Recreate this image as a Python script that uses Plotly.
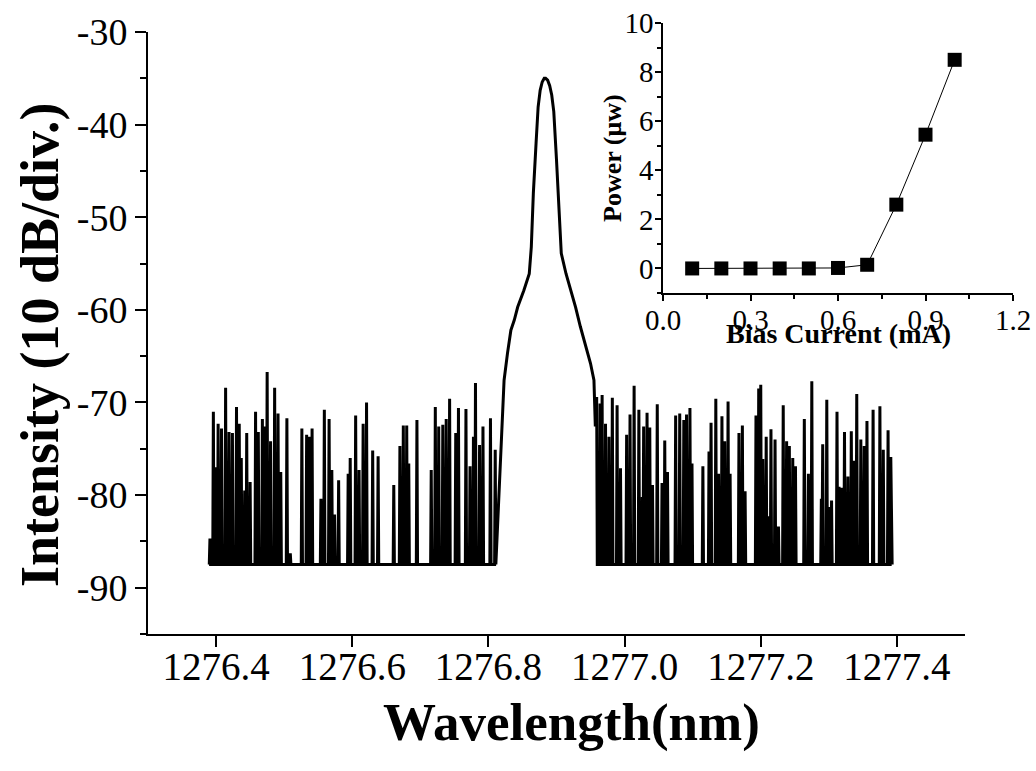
import plotly.graph_objects as go

# ---------------- data ----------------
FLOOR_DB = -87.5
START_WL = 1276.390
END_WL = 1277.393

# noise spikes left of the lasing peak (wavelength nm, level dB)
left_spike_wl = [1276.391, 1276.396, 1276.400, 1276.403, 1276.408, 1276.414, 1276.419, 1276.424,
                 1276.430, 1276.434, 1276.437, 1276.442, 1276.445, 1276.450, 1276.458, 1276.462,
                 1276.468, 1276.472, 1276.475, 1276.480, 1276.486, 1276.491, 1276.495, 1276.504,
                 1276.509, 1276.526, 1276.533, 1276.537, 1276.541, 1276.554, 1276.559, 1276.566,
                 1276.570, 1276.574, 1276.580, 1276.594, 1276.597, 1276.605, 1276.610, 1276.616,
                 1276.621, 1276.630, 1276.638, 1276.661, 1276.670, 1276.675, 1276.680, 1276.683,
                 1276.695, 1276.716, 1276.722, 1276.727, 1276.733, 1276.738, 1276.743, 1276.752,
                 1276.756, 1276.767, 1276.773, 1276.778, 1276.781, 1276.787, 1276.792, 1276.803,
                 1276.810]
left_spike_db = [-84.7, -71.0, -77.0, -72.3, -72.8, -68.4, -73.2, -73.3,
                 -70.5, -72.3, -76.0, -79.5, -73.3, -78.6, -71.0, -73.2,
                 -71.8, -72.6, -66.7, -74.2, -68.4, -71.2, -77.5, -71.7,
                 -86.3, -72.8, -73.5, -73.7, -72.8, -80.4, -70.8, -71.8,
                 -77.3, -82.1, -78.4, -77.7, -76.0, -71.4, -77.3, -72.3,
                 -70.0, -75.2, -75.8, -78.9, -74.7, -72.5, -72.5, -76.6,
                 -71.9, -77.3, -70.5, -72.6, -72.4, -71.8, -69.6, -73.3,
                 -70.6, -70.7, -76.9, -73.7, -67.9, -74.6, -72.6, -71.7,
                 -75.1]

# lasing peak profile
peak_wl = [1276.818, 1276.819, 1276.823, 1276.828, 1276.833, 1276.838, 1276.843, 1276.852,
           1276.860, 1276.863, 1276.866, 1276.870, 1276.873, 1276.876, 1276.879, 1276.882,
           1276.884, 1276.887, 1276.890, 1276.893,
           1276.896, 1276.900, 1276.904, 1276.907, 1276.914, 1276.921, 1276.928, 1276.935,
           1276.943, 1276.950, 1276.955, 1276.957, 1276.959]
peak_db = [-76.5, -74.1, -67.6, -64.7, -62.2, -61.1, -59.7, -57.9,
           -56.1, -53.2, -47.4, -42.0, -38.1, -36.3, -35.4, -35.0,
           -35.0, -35.2, -35.8, -36.8,
           -38.6, -43.8, -50.3, -53.9, -56.1, -57.9, -59.7, -61.8,
           -64.0, -65.8, -67.6, -72.6, -69.4]

# noise spikes right of the lasing peak
right_spike_wl = [1276.964, 1276.967, 1276.972, 1276.977, 1276.982, 1276.989, 1276.994, 1277.003,
                  1277.008, 1277.014, 1277.021, 1277.026, 1277.028, 1277.033, 1277.037, 1277.041,
                  1277.048, 1277.055, 1277.059, 1277.063, 1277.075, 1277.081, 1277.087, 1277.091,
                  1277.096, 1277.099, 1277.115, 1277.124, 1277.127, 1277.134, 1277.138, 1277.143,
                  1277.147, 1277.152, 1277.155, 1277.168, 1277.173, 1277.177, 1277.193, 1277.197,
                  1277.200, 1277.203, 1277.208, 1277.211, 1277.215, 1277.221, 1277.226, 1277.233,
                  1277.238, 1277.242, 1277.247, 1277.251, 1277.264, 1277.270, 1277.275, 1277.289,
                  1277.291, 1277.297, 1277.301, 1277.304, 1277.312, 1277.315, 1277.319, 1277.323,
                  1277.328, 1277.333, 1277.337, 1277.341, 1277.347, 1277.352, 1277.356, 1277.365,
                  1277.375, 1277.380, 1277.387, 1277.391]
right_spike_db = [-70.1, -69.2, -72.3, -73.7, -69.5, -70.3, -77.1, -73.5,
                  -71.3, -68.2, -70.8, -80.2, -72.6, -71.1, -72.7, -78.9,
                  -70.2, -78.7, -74.1, -77.5, -71.4, -71.2, -71.9, -71.3,
                  -70.6, -76.6, -76.9, -75.3, -72.2, -69.6, -77.7, -71.5,
                  -74.2, -69.9, -77.7, -73.3, -72.5, -79.6, -71.4, -68.5,
                  -68.1, -76.1, -73.7, -82.3, -72.9, -74.0, -83.4, -70.3,
                  -74.2, -74.7, -76.0, -76.9, -71.8, -77.7, -67.7, -80.4,
                  -74.5, -69.7, -81.3, -80.6, -71.0, -79.1, -79.2, -73.2,
                  -78.0, -73.1, -76.3, -69.1, -74.0, -74.7, -72.0, -70.8,
                  -70.4, -75.1, -73.0, -75.9]

# inset: L-I curve
bias_ma = [0.1, 0.2, 0.3, 0.4, 0.5, 0.6, 0.7, 0.8, 0.9, 1.0]
power_uw = [0.0, 0.0, 0.0, 0.0, 0.0, 0.02, 0.15, 2.6, 5.45, 8.5]

x_ticks = [1276.4, 1276.6, 1276.8, 1277.0, 1277.2, 1277.4]
y_ticks = [-90, -80, -70, -60, -50, -40, -30]

# ---------------- build spectrum trace ----------------
HALF_W = 0.0009
spec_x, spec_y = [START_WL], [FLOOR_DB]
for w, d in zip(left_spike_wl, left_spike_db):
    spec_x += [w - HALF_W, w, w + HALF_W]
    spec_y += [FLOOR_DB, d, FLOOR_DB]
spec_x += peak_wl
spec_y += peak_db
spec_x.append(peak_wl[-1] + HALF_W)
spec_y.append(FLOOR_DB)
for w, d in zip(right_spike_wl, right_spike_db):
    spec_x += [w - HALF_W, w, w + HALF_W]
    spec_y += [FLOOR_DB, d, FLOOR_DB]
spec_x.append(END_WL)
spec_y.append(FLOOR_DB)

FONT = "Liberation Serif, Times New Roman, serif"

fig = go.Figure()
fig.add_trace(go.Scatter(x=spec_x, y=spec_y, mode="lines",
                         line=dict(color="black", width=3), xaxis="x", yaxis="y",
                         showlegend=False, hoverinfo="skip"))
fig.add_trace(go.Scatter(x=bias_ma, y=power_uw, mode="lines+markers",
                         line=dict(color="black", width=1),
                         marker=dict(symbol="square", size=14, color="black"),
                         xaxis="x2", yaxis="y2", showlegend=False))

# plot area: x 148..1016 px, y 15..634 px
L, R, T, B = 148, 20, 15, 137
PW = 1036 - L - R
PH = 771 - T - B

def px(xp):
    return (xp - L) / PW

def py(yp):
    return (771 - B - yp) / PH

fig.update_layout(
    width=1036, height=771,
    margin=dict(l=L, r=R, t=T, b=B, autoexpand=False),
    paper_bgcolor="white", plot_bgcolor="rgba(0,0,0,0)",
    font=dict(family=FONT, color="black"),
    xaxis=dict(domain=[0, px(965)], range=[1276.3, 1277.5], tickvals=x_ticks,
               ticktext=[f"{v:.1f}" for v in x_ticks],
               showline=True, linecolor="black", linewidth=2, mirror=False,
               ticks="outside", ticklen=11, tickwidth=2, tickcolor="black",
               ticklabelstandoff=-14,
               showgrid=False, zeroline=False, tickfont=dict(size=39, family=FONT),
               anchor="y", automargin=False),
    yaxis=dict(domain=[0, py(32)], range=[-95, -30], tickvals=y_ticks,
               ticktext=[f"-{abs(v)}" for v in y_ticks],
               showline=True, linecolor="black", linewidth=2, mirror=False,
               ticks="outside", ticklen=11, tickwidth=2, tickcolor="black",
               minor=dict(dtick=5, tick0=-95, ticks="outside", ticklen=6, tickwidth=2,
                          tickcolor="black", showgrid=False),
               showgrid=False, zeroline=False, tickfont=dict(size=38, family=FONT),
               anchor="x", automargin=False),
    xaxis2=dict(domain=[px(663), px(1013)], range=[0, 1.2], dtick=0.3, tick0=0,
                tickformat=".1f",
                showline=True, linecolor="black", linewidth=1.5, mirror=False,
                ticks="outside", ticklen=6, tickwidth=1.5, tickcolor="black",
                ticklabelstandoff=-6,
                minor=dict(dtick=0.15, tick0=0, ticks="outside", ticklen=4, tickwidth=1.5,
                           tickcolor="black", showgrid=False),
                showgrid=False, zeroline=False, tickfont=dict(size=29, family=FONT),
                anchor="y2", automargin=False),
    yaxis2=dict(domain=[py(293), py(23)], range=[-1, 10], dtick=2, tick0=0,
                showline=True, linecolor="black", linewidth=1.5, mirror=False,
                ticks="outside", ticklen=6, tickwidth=1.5, tickcolor="black",
                ticklabelstandoff=-4,
                minor=dict(dtick=1, tick0=0, ticks="outside", ticklen=4, tickwidth=1.5,
                           tickcolor="black", showgrid=False),
                showgrid=False, zeroline=False, tickfont=dict(size=29, family=FONT),
                anchor="x2", automargin=False),
    annotations=[
        dict(text="<b>Wavelength(nm)</b>", x=px(571), y=py(722), xref="paper", yref="paper",
             showarrow=False, font=dict(size=53, family=FONT), xanchor="center", yanchor="middle"),
        dict(text="<b>Intensity (10 dB/div.)</b>", x=px(40), y=py(345), xref="paper", yref="paper",
             showarrow=False, textangle=-90, font=dict(size=54, family=FONT),
             xanchor="center", yanchor="middle"),
        dict(text="<b>Bias Current (mA)</b>", x=px(838), y=py(334), xref="paper", yref="paper",
             showarrow=False, font=dict(size=28, family=FONT), xanchor="center", yanchor="middle"),
        dict(text="<b>Power (\u03bcw)</b>", x=px(612), y=py(158), xref="paper", yref="paper",
             showarrow=False, textangle=-90, font=dict(size=26, family=FONT),
             xanchor="center", yanchor="middle"),
    ],
)

fig.write_html("out.html")
